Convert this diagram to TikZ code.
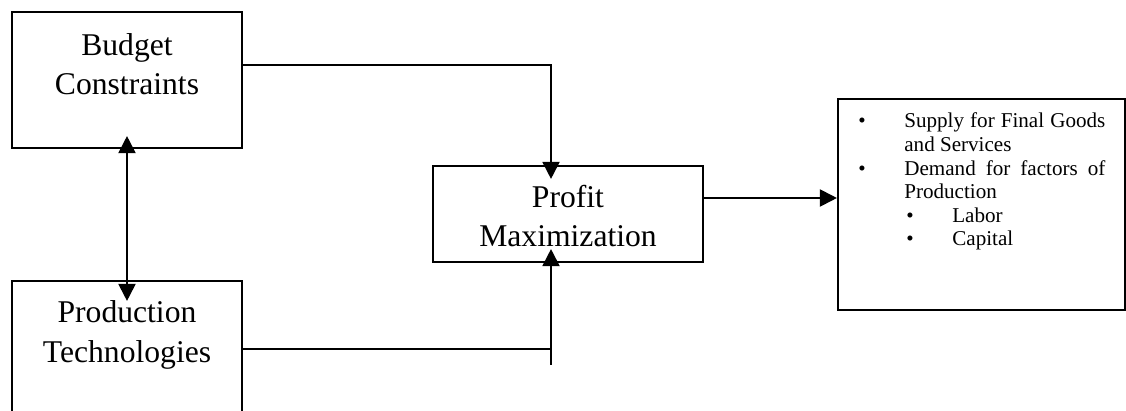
\documentclass[tikz,border=0pt]{standalone}
\usepackage{fontspec}
\setmainfont{Liberation Serif}
\usetikzlibrary{calc,arrows.meta}

\begin{document}
\begin{tikzpicture}[x=0.2mm, y=-0.2mm, >={Triangle[length=0.34cm, width=0.34cm]},
  block/.style={draw, line width=1.2pt, inner sep=0pt},
  bigtext/.style={align=center, inner sep=0pt, font=\fontsize{18}{22.5}\selectfont},
  link/.style={line width=1.1pt}]

  \useasboundingbox (0,0) rectangle (1126,411);
  \clip (0,0) rectangle (1126,411);

  % Left column
  \node[block, minimum width=4.6cm, minimum height=2.72cm] (budget) at (127,80) {};
  \node[bigtext] (budgetText) at (127,64) {Budget\\Constraints};
  \node[block, minimum width=4.6cm, minimum height=2.72cm] (prod) at (127,349) {};
  \node[bigtext] (prodText) at (127,335) {Production\\Technologies};

  % Middle
  \node[block, minimum width=5.4cm, minimum height=1.92cm] (profit) at (568,214) {};
  \node[bigtext] (profitText) at (568,216) {Profit\\Maximization};

  % Right
  \node[block, minimum width=5.74cm, minimum height=4.22cm] (out) at (981.5,204.5) {};
  \node[anchor=base west, inner sep=0pt, font=\fontsize{12}{13.4}\selectfont] (outText) at (858,128) {%
    \begin{tabular}[t]{@{}p{9.2mm}@{}p{4.02cm}@{}}
      \textbullet & Supply for Final Goods and Services\\
      \textbullet & Demand for factors of Production\\
      & \makebox[9.6mm][l]{\hspace{0.4mm}\textbullet}Labor\\
      & \makebox[9.6mm][l]{\hspace{0.4mm}\textbullet}Capital
    \end{tabular}};

  % Joints
  \coordinate (join) at (551,349);
  \coordinate (stub) at (551,365);
  \coordinate (pm) at ($(profit.east)+(0,-16)$);

  % Connectors
  \draw[link, <->] ($(budget.south)+(0,-13)$) -- ($(prod.north)+(0,21)$);
  \draw[link, ->] ($(budget.east)+(0,-15)$) -| ($(profit.north)+(-17,14)$);
  \draw[link] (prod.east) -- (join);
  \draw[link, ->] (stub) -- ($(profit.south)+(-17,-14)$);
  \draw[link, ->] (pm) -- (pm -| out.west);

\end{tikzpicture}
\end{document}
